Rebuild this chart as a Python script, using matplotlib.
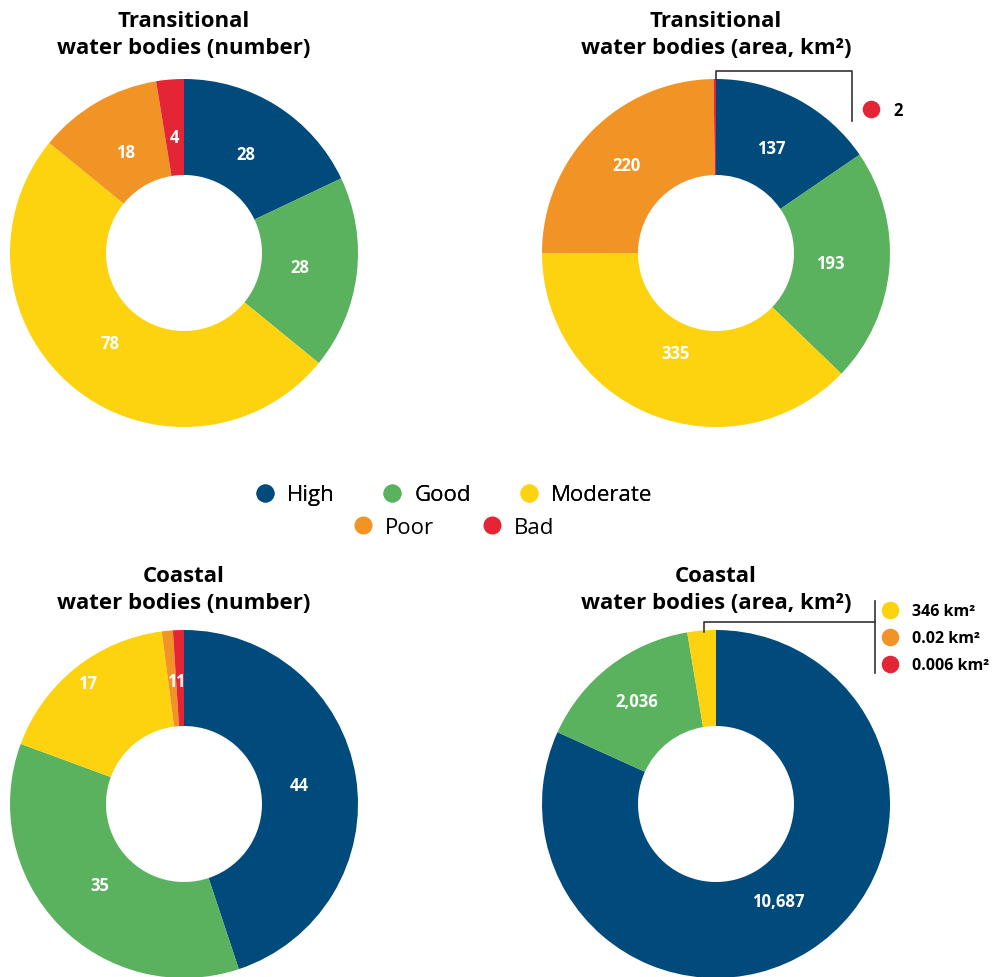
import matplotlib
matplotlib.use("Agg")
import matplotlib.pyplot as plt
from matplotlib.lines import Line2D
import numpy as np

plt.rcParams['font.family'] = ['Open Sans', 'DejaVu Sans']

categories = ["High", "Good", "Moderate", "Poor", "Bad"]
colors = ["#004A7C", "#5BB25E", "#FDD20F", "#F29425", "#E42535"]

trans_number = [28, 28, 78, 18, 4]
trans_area = [137, 193, 335, 220, 2]
coast_number = [44, 35, 17, 1, 1]
coast_area = [10687, 2036, 346, 0.02, 0.006]

trans_number_labels = ["28", "28", "78", "18", "4"]
trans_area_labels = ["137", "193", "335", "220", ""]
coast_number_labels = ["44", "35", "17", "1", "1"]
coast_area_labels = ["10,687", "2,036", "", "", ""]

titles = ["Transitional\nwater bodies (number)",
          "Transitional\nwater bodies (area, km²)",
          "Coastal\nwater bodies (number)",
          "Coastal\nwater bodies (area, km²)"]

callout_top = ["2"]
callout_bottom = ["346 km²", "0.02 km²", "0.006 km²"]

W, H = 1000, 978
fig = plt.figure(figsize=(W / 100, H / 100), dpi=100)

R = 174
HOLE = 78 / 174

def donut(cx, cy, values, labels, title, title_y, label_r):
    ax = fig.add_axes([(cx - R) / W, (H - cy - R) / H, 2 * R / W, 2 * R / H])
    wedges, _ = ax.pie(values, colors=colors, startangle=90, counterclock=False,
                       radius=1, wedgeprops=dict(width=1 - HOLE, linewidth=0))
    for w, lab, lr in zip(wedges, labels, label_r):
        if not lab:
            continue
        ang = np.deg2rad((w.theta1 + w.theta2) / 2)
        ax.text(lr * np.cos(ang), lr * np.sin(ang), lab, ha='center', va='center',
                color='white', fontsize=12, fontweight='bold')
    ax.set_xlim(-1, 1)
    ax.set_ylim(-1, 1)
    ax.set_aspect('auto')
    ax.axis('off')
    fig.text(cx / W, 1 - title_y / H, title, ha='center', va='top', fontsize=16,
             fontweight='bold', linespacing=1.38)
    return ax

donut(184, 254, trans_number, trans_number_labels, titles[0], 11, [0.67] * 5)
donut(716, 254, trans_area, trans_area_labels, titles[1], 11, [0.68, 0.66, 0.62, 0.72, 0.7])
donut(184, 805, coast_number, coast_number_labels, titles[2], 566, [0.67, 0.67, 0.89, 0.71, 0.71])
donut(716, 805, coast_area, coast_area_labels, titles[3], 566, [0.66, 0.75, 0.7, 0.7, 0.7])

# overlay for annotations (pixel coordinates)
ov = fig.add_axes([0, 0, 1, 1])
ov.set_xlim(0, W)
ov.set_ylim(H, 0)
ov.axis('off')

# top-right callout
ov.plot([716, 716, 852, 852], [80, 72, 72, 122], color='#333333', lw=1.2)
ov.scatter([871], [110], s=160, color=colors[4], linewidths=0)
ov.text(893, 111, callout_top[0], ha='left', va='center', fontsize=12, fontweight='bold')

# bottom-right callout
ov.plot([704, 704, 875], [633, 623, 623], color='#333333', lw=1.2)
ov.plot([875, 875], [602, 674], color='#333333', lw=1.2)
for i, (yy, txt) in enumerate(zip([611, 638, 665], callout_bottom)):
    ov.scatter([890], [yy], s=160, color=colors[2 + i], linewidths=0)
    ov.text(912, yy + 1, txt, ha='left', va='center', fontsize=11.5, fontweight='bold')

# legend
def handles(idx):
    return [Line2D([], [], marker='o', linestyle='', markersize=13,
                   markerfacecolor=colors[i], markeredgewidth=0) for i in idx]

leg1 = fig.legend(handles([0, 1, 2]), categories[:3], loc='center',
                  bbox_to_anchor=(453 / W, 1 - 496 / H), ncol=3, frameon=False,
                  fontsize=16, handletextpad=0.5, columnspacing=2.1, handlelength=1.0)
leg2 = fig.legend(handles([3, 4]), categories[3:], loc='center',
                  bbox_to_anchor=(453 / W, 1 - 528 / H), ncol=2, frameon=False,
                  fontsize=16, handletextpad=0.5, columnspacing=2.1, handlelength=1.0)
fig.add_artist(leg1)

fig.savefig("out.png", dpi=100)
